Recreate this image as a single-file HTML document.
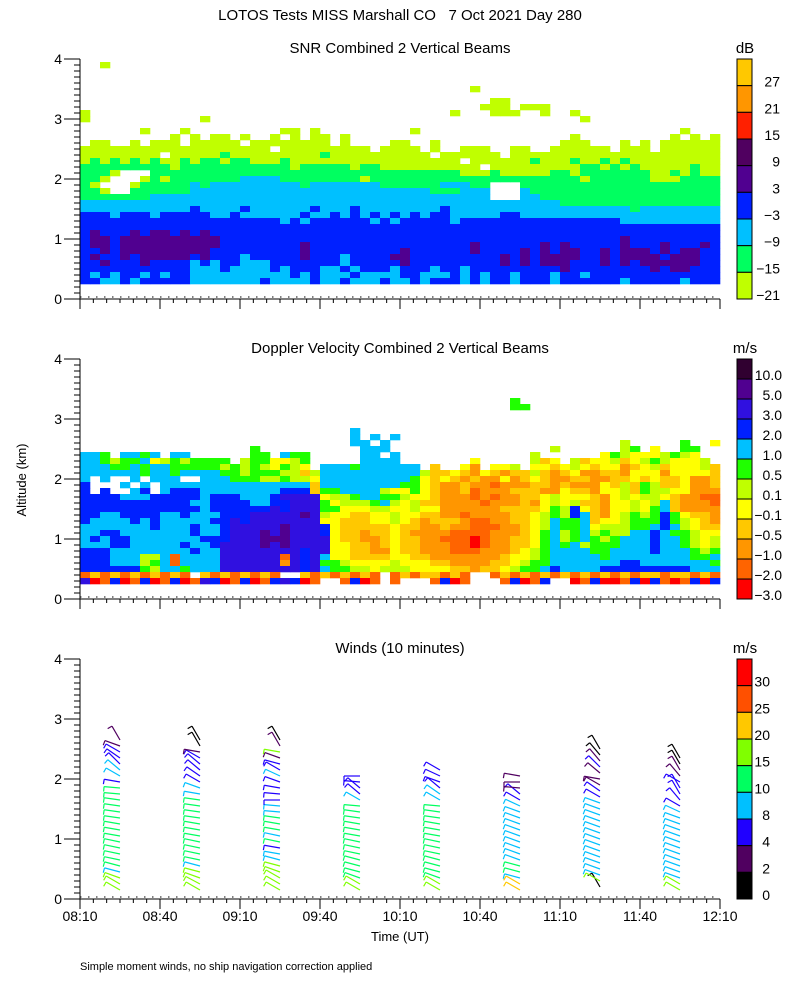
<!DOCTYPE html>
<html><head><meta charset="utf-8">
<style>
html,body{margin:0;padding:0;background:#fff;}
svg{display:block;font-family:"Liberation Sans",sans-serif;}
</style></head>
<body>
<svg id="chart" width="800" height="1000" viewBox="0 0 800 1000" xmlns="http://www.w3.org/2000/svg">
<rect width="800" height="1000" fill="#fff"/>
<text x="400" y="20" font-size="15" text-anchor="middle">LOTOS Tests MISS Marshall CO &#160;&#160;7 Oct 2021 Day 280</text>
<text x="400" y="53" font-size="15" text-anchor="middle">SNR Combined 2 Vertical Beams</text>
<text x="400" y="353" font-size="15" text-anchor="middle">Doppler Velocity Combined 2 Vertical Beams</text>
<text x="400" y="653" font-size="15" text-anchor="middle">Winds (10 minutes)</text>
<text x="26" y="480" font-size="13" text-anchor="middle" transform="rotate(-90 26 480)">Altitude (km)</text>
<text x="400" y="941" font-size="13" text-anchor="middle">Time (UT)</text>
<text x="80" y="970" font-size="11">Simple moment winds, no ship navigation correction applied</text>
<text x="745" y="53" font-size="15" text-anchor="middle">dB</text>
<text x="745" y="353" font-size="15" text-anchor="middle">m/s</text>
<text x="745" y="653" font-size="15" text-anchor="middle">m/s</text>
<g id="layers"></g>
</svg>
<script>
// ---------- data ----------
const xTickLabels = ["08:10","08:40","09:10","09:40","10:10","10:40","11:10","11:40","12:10"];
const yTickLabels = ["0","1","2","3","4"];
const snrLegendLabels = ["27","21","15","9","3","\u22123","\u22129","\u221215","\u221221"];
const snrColors = ["#ffc800","#ff9600","#ff2000","#500060","#500090","#0020ff","#00c0ff","#00ff60","#c0ff00"];
const dopLegendLabels = ["10.0","5.0","3.0","2.0","1.0","0.5","0.1","\u22120.1","\u22120.5","\u22121.0","\u22122.0","\u22123.0"];
const dopColors = ["#300030","#500090","#3010e0","#0020ff","#00c0ff","#20ff00","#c0ff00","#ffff00","#ffc800","#ff9600","#ff6400","#ff0000"];
const windLegendLabels = ["30","25","20","15","10","8","4","2","0"];
const windColors = ["#ff0000","#ff5000","#ffc800","#80ff00","#00ff60","#00c0ff","#2000ff","#500060","#000000"];
const windBreaks = [30,25,20,15,10,8,4,2,0];
// SNR grid: rows top (3.85-3.95 km) to bottom (0.25-0.35 km); cols 3.75 min each from 08:10
// codes: 0 none,1=-21,2=-15,3=-9,4=-3,5=3,6=9
const snrRows = [
"00100000 00000000 00000000 00000000 00000000 00000000 00000000 00000000",
"00000000 00000000 00000000 00000000 00000000 00000000 00000000 00000000",
"00000000 00000000 00000000 00000000 00000000 00000000 00000000 00000000",
"00000000 00000000 00000000 00000000 00000000 00000000 00000000 00000000",
"00000000 00000000 00000000 00000000 00000001 00000000 00000000 00000000",
"00000000 00000000 00000000 00000000 00000000 00000000 00000000 00000000",
"00000000 00000000 00000000 00000000 00000000 01100000 00000000 00000000",
"00000000 00000000 00000000 00000000 00000000 11101110 00000000 00000000",
"10000000 00000000 00000000 00000000 00000100 01110010 01000000 00000000",
"10000000 00001000 00000000 00000000 00000000 00000000 00100000 00000000",
"00000000 00000000 00000000 00000000 00000000 00000000 00000000 00000000",
"00000010 00100000 00001101 00000000 01000000 00000000 00000000 00001000",
"00000000 01010110 10010101 10100000 00000000 00000000 01000000 00010101",
"01100101 11011111 01111111 10100001 10010000 00000000 11100010 10111111",
"11111111 11111111 11101111 11111011 11010011 10011001 11111011 10111111",
"11111111 01111121 11111111 21111111 11101111 11011111 11111111 11111111",
"12121212 11212212 21112111 11111111 11111101 11111211 12112121 11111111",
"22222222 21222222 22222122 22212211 11111111 01111111 11221212 11111211",
"22210002 22222222 22222222 22222222 22222211 12111112 21222222 21121211",
"22100012 12222222 33332222 22221222 22222222 22222222 22122222 21112222",
"21000122 22232333 33333323 33333322 22223332 20002222 22222222 22222222",
"22100222 22233333 33333333 33333333 33322233 30003222 22222222 22222222",
"22222223 33333333 33333333 33333333 33333333 30003322 22222222 22222222",
"33333333 33333333 33333333 33333333 33333333 33333333 22222222 22222222",
"33333333 33343333 43333334 33343333 33334333 33333333 33333332 33333333",
"44434443 44444334 33333343 34343434 34344333 33443333 33333333 33333333",
"44444444 44444444 44443434 44444343 44444344 44444444 44444433 33333333",
"44444444 44444444 44444444 44444444 44444444 44444444 44444444 44444444",
"45444545 54545444 44444444 44444444 44444444 44444444 44444444 44444444",
"45545555 55555544 44444444 44444444 44444444 44444444 44444454 44444444",
"45545555 55555544 44444454 44444444 44444445 44444454 54444454 44544454",
"44545555 55555444 44444454 44444444 54444445 44445454 55445455 54545544",
"45445455 55545444 34444454 44344445 54444444 44545455 55445455 55455544",
"44544454 44434344 33344444 44344444 54444444 44545455 54445454 55555544",
"44444444 44433343 33343444 33434443 44434434 44444444 54444444 45455444",
"43434434 34433333 33333434 33343333 44333434 34434443 44344444 44444444",
"44334344 44433333 33433334 33433343 34344434 34434443 44444434 44443444"
];
// Doppler grid: rows top (3.25-3.35 km) to bottom (0.25-0.35); a..l = legend bins top..bottom
const dopRows = [
"00000000 00000000 00000000 00000000 00000000 000f0000 00000000 00000000",
"00000000 00000000 00000000 00000000 00000000 000ff000 00000000 00000000",
"00000000 00000000 00000000 00000000 00000000 00000000 00000000 00000000",
"00000000 00000000 00000000 00000000 00000000 00000000 00000000 00000000",
"00000000 00000000 00000000 00000000 00000000 00000000 00000000 00000000",
"00000000 00000000 00000000 000e0000 00000000 00000000 00000000 00000000",
"00000000 00000000 00000000 000e0e0e 00000000 00000000 00000000 00000000",
"00000000 00000000 00000000 000ee0e0 00000000 00000000 000000g0 0000f00h",
"00000000 00000000 0f000000 0000eee0 00000000 0000000g 000000gf 0h00ff00",
"eef0eefe 0ee00000 0ff0eff0 0000ee0e 00000000 00000g00 0000hfgh hhgfgh00",
"eefgffeh gfgffff0 gffhhgf0 0000eeee 0000000h 00000gih 0gihhgih gfghhhg0",
"eeeffefe efffffgf gfghfgh0 eeefeeee ee0i00hj 0hhg0hhi hghihhji hgihhhgi",
"eeeeeefe efeeeeff gfffggig eeeeeeee eegiihij hijiigij ihjjiijh hhjhhhhi",
"e0e00e0e ee00eeef ffggfggh eeeeeeee efhihiji jjhjihij jiijjiih ihiihjji",
"d000e0e0 eeeeeeee eeeeeeei eeeeeeee ffhijjij jkjjjiij ijjjhigi fgiihjji",
"d0d00ed0 edddeeee eeeedddi ffeeeegh hfhijjik jjjiiijj hiijhhgi fgghhjjj",
"ddddeeed ddddeddd eeedcccc hggfeeff ghhijjjk jkjjiihg hhhijhgh gghijjkk",
"dddddddd dddeeddd deeddccc fhgggfeg hgiijjjj kjjjijhg hgiijhhg hgeijjjk",
"dddddddd ddddeddd dddcdccc ffhhhggh hghhjjjj jjiiiihf gdhijhhg hfeijjjj",
"ddeedddd eedeeedd dcccccbc ghhiihhg hhiijjkj jjjiihgf gdeijhgf gfdfhiij",
"deeeeded eeeeeddc dccccccc hhiiihhg hijiiijk kjjiihge ffeihhgf ffdfghij",
"eeeeeeed eeedeedc ccccbccc dhiiiiih iijjijjk kkjjihge ffehgggf fedeghii",
"eeddeeee eeedeedc ccbcbccc dhiijiih ijjjjkkk kjjjihfe gfegfgge edeffghh",
"ededdeee eeeedddc ccbbbccc chiijjih iijjkkkl kjjiihfe gfefgfee edeefghg",
"eeeddeee eedeedcc ccbcbccc chhiijih iijjjkkl kjjiihfe fegfffee edeefghg",
"dddeeeee eeedeecc ccccccdc chhiijjh iijjjkkk jjjihgfe eeeffeee edeeefgf",
"dddeeegg ekeeeecc cccckcdc ehhiiiih hiijjjjj jjihhgfe eeeefeee eeeeeffe",
"dddeeegf ekeeeecc ccccjcdc ffghhhhg hhhiijjj jiihgffe eeeeeedd eeeeeeef",
"ddddddfg eefeeecc ccccccdc effgghgg ghhhhiij iihgffed eeeedddd dddddeee",
"kikikiki kik0ikik ikik00ik ikikik0k ikiikik0 0kikikik ikikikik iikiikik",
"clkdlkdl kdlkcdlk dlkdcdlk 00kdlk0k 000kdlk0 00kdlkd0 0lkdllkd ldklkdld"
];
// Wind profiles: time (min after 08:10), first level 0.15 km step 0.1 km
const windTimes = [15,45,75,105,135,165,195,225];
const windStart = [0.15,0.15,0.15,0.15,0.15,0.15,0.2,0.15];
const windSpeeds = [
[17,16,18,9,13,12,12,12,12,12,12,12,12,12,12,12,12,11,7,9,9,6,6,5,3,3],
[16,17,18,16,9,12,12,12,12,12,12,12,12,12,12,12,9,9,7,6,6,6,5,3,0,0],
[17,16,18,16,17,8,9,5,12,9,11,11,12,9,9,6,6,6,6,8,7,7,3,15,3,0],
[18,16,13,12,12,12,11,11,11,11,11,12,12,12,12,9,6,7,6,7],
[17,16,12,12,12,12,11,11,11,11,11,11,11,12,12,9,9,6,6,6,5],
[22,21,9,12,12,9,9,9,9,9,9,9,9,9,8,6,6,3,3,3],
[1,16,9,9,9,9,9,9,9,9,9,9,9,9,9,6,6,3,3,3,6,3,1,1],
[16,17,9,9,9,9,9,9,9,9,9,9,9,9,7,6,5,4,6,3,3,1,1]
];
const windDirs = [
[150,150,160,165,165,168,168,168,168,170,170,170,172,172,172,172,175,175,170,150,140,135,145,150,160,120],
[150,152,160,165,165,168,168,168,168,170,170,170,172,172,172,172,170,160,150,145,140,140,150,170,120,120],
[150,150,150,160,165,165,170,170,168,168,170,170,172,175,175,180,175,170,160,155,150,165,160,170,120,120],
[150,150,160,165,165,165,168,168,168,170,170,170,172,172,175,150,140,140,175,180],
[150,150,160,165,165,165,168,168,168,170,170,170,172,172,175,150,145,140,160,155,150],
[150,150,165,165,165,160,160,160,160,160,160,160,160,160,155,150,140,175,180,170],
[120,150,160,160,160,160,160,160,160,160,160,160,160,160,160,150,145,150,170,140,135,130,130,120],
[150,150,160,160,160,160,160,160,160,160,160,160,160,155,150,130,120,120,150,130,120,120,120]
];

// ---------- helpers ----------
const svg = document.getElementById('chart');
const layers = document.getElementById('layers');
const NS = 'http://www.w3.org/2000/svg';
const X0 = 80, X1 = 720, T_SPAN = 240;
const panelBottoms = [299, 599, 899];
const KM_PX = 60;
function xOfMin(m){ return X0 + (X1 - X0) * m / T_SPAN; }
function yOfKm(panel, km){ return panelBottoms[panel] - km * KM_PX; }
function mk(tag, attrs, parent){
  const e = document.createElementNS(NS, tag);
  for (const k in attrs) e.setAttribute(k, attrs[k]);
  (parent || layers).appendChild(e);
  return e;
}

// ---------- grids ----------
function drawGrid(rows, panel, colorFor, name){
  const g = mk('g', {});
  
  
  const n = rows.length;
  const colMin = 3.75;
  rows.forEach((rs, j) => {
    const s = rs.replace(/ /g, '');
    const bottomKm = 0.25 + 0.1 * (n - 1 - j);
    for (let i = 0; i < s.length && i < 64; i++) {
      const c = colorFor(s[i]);
      if (!c) continue;
      const xa = xOfMin(i * colMin), xb = xOfMin((i + 1) * colMin);
      const ya = yOfKm(panel, bottomKm + 0.1), yb = yOfKm(panel, bottomKm);
      const r = mk('rect', {x: xa, y: ya, width: xb - xa + 0.3, height: yb - ya + 0.3, fill: c}, g);
      
      
    }
  });
}
drawGrid(snrRows, 0, ch => ch === '0' ? null : snrColors[9 - (+ch)], 'snr-field');
drawGrid(dopRows, 1, ch => ch === '0' ? null : dopColors[ch.charCodeAt(0) - 97], 'doppler-field');

// ---------- winds ----------
function windColor(s){
  for (let k = 0; k < windBreaks.length; k++) if (s >= windBreaks[k]) return windColors[k];
  return windColors[windColors.length - 1];
}
windTimes.forEach((t, p) => {
  const g = mk('g', {});
  
  
  const ax = xOfMin(t);
  windSpeeds[p].forEach((s, k) => {
    const km = windStart[p] + 0.1 * k;
    const ay = yOfKm(2, km);
    const a = windDirs[p][k] * Math.PI / 180;
    const L = 16;
    const ex = ax + L * Math.cos(a), ey = ay - L * Math.sin(a);
    const col = windColor(s);
    const l = mk('line', {x1: ax, y1: ay, x2: ex, y2: ey, stroke: col, 'stroke-width': 1.2}, g);
    
    
    const b = a + Math.PI / 2;
    const tk = mk('line', {x1: ex, y1: ey, x2: ex + 5 * Math.cos(b), y2: ey - 5 * Math.sin(b), stroke: col, 'stroke-width': 1.2}, g);
    
    
  });
});

// ---------- axes ----------
for (let p = 0; p < 3; p++) {
  const g = mk('g', {stroke: '#000', 'stroke-width': 1, fill: 'none'});
  
  
  const yb = panelBottoms[p], yt = yOfKm(p, 4);
  mk('line', {x1: X0, y1: yt, x2: X0, y2: yb + 10}, g);
  mk('line', {x1: 64, y1: yb, x2: X1, y2: yb}, g);
  mk('line', {x1: X0, y1: yb - 2, x2: X1, y2: yb - 2, 'stroke-dasharray': '1.5,6.5'}, g);
  for (let k = 0; k <= 40; k++) {
    const y = yOfKm(p, k / 10);
    const len = (k % 10 === 0) ? 16 : 6;
    if (k > 0) mk('line', {x1: X0 - len, y1: y, x2: X0, y2: y}, g);
  }
  for (let m = 0; m <= T_SPAN; m += 5) {
    const x = xOfMin(m);
    const len = (m % 30 === 0) ? 10 : 4;
    mk('line', {x1: x, y1: yb, x2: x, y2: yb + len}, g);
  }
  yTickLabels.forEach((lab, k) => {
    const t = mk('text', {x: 62, y: yOfKm(p, k) + 5, 'font-size': 14, 'text-anchor': 'end', fill: '#000', stroke: 'none'});
    t.textContent = lab;
    
    
  });
}
xTickLabels.forEach((lab, k) => {
  const t = mk('text', {x: xOfMin(k * 30), y: 921, 'font-size': 14, 'text-anchor': 'middle'});
  t.textContent = lab;
  
  
});

// ---------- colorbars ----------
function colorbar(panel, colors, labels, name, labelX, anchor, zeroBottom){
  const g = mk('g', {});
  
  
  const top = yOfKm(panel, 4), bot = panelBottoms[panel];
  const h = (bot - top) / colors.length;
  colors.forEach((c, i) => {
    const r = mk('rect', {x: 737, y: top + i * h, width: 15, height: h, fill: c, stroke: '#000', 'stroke-width': 1}, g);
    
    
  });
  labels.forEach((lab, i) => {
    let y = top + (i + 1) * h + 1;
    if (zeroBottom && i === labels.length - 1) y = bot + 1;
    if (y > bot + 1) y = bot + 1;
    const t = mk('text', {x: labelX, y: y, 'font-size': 14, 'text-anchor': anchor}, g);
    t.textContent = lab;
    
    
  });
}
colorbar(0, snrColors, snrLegendLabels, 'snr-colorbar', 780, 'end', false);
colorbar(1, dopColors, dopLegendLabels, 'doppler-colorbar', 782, 'end', false);
colorbar(2, windColors, windLegendLabels, 'winds-colorbar', 770, 'end', true);
</script>
</body></html>
